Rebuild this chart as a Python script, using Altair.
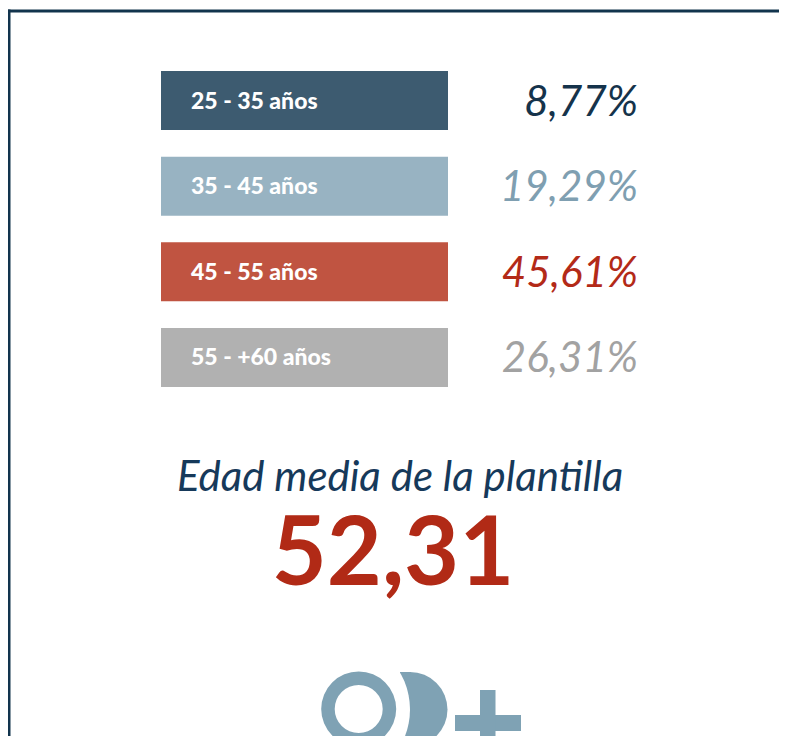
import altair as alt
import pandas as pd

# ---- data ----
age_groups = ["25 - 35 años", "35 - 45 años", "45 - 55 años", "55 - +60 años"]
percentages = [8.77, 19.29, 45.61, 26.31]
bar_colors = ["#3d5b70", "#98b3c2", "#c05441", "#b1b1b1"]
pct_colors = ["#15334b", "#7f9fb1", "#b32a18", "#a2a2a2"]
title_text = "Edad media de la plantilla"
mean_age = 52.31

pct_labels = [f"{v:.2f}".replace(".", ",") + "%" for v in percentages]
df = pd.DataFrame({
    "group": age_groups,
    "pct": percentages,
    "label": pct_labels,
    "bar_color": bar_colors,
    "pct_color": pct_colors,
})

LOGO = "#7fa2b4"
W, H = 771, 728

y_enc = alt.Y("group:N", sort=age_groups, axis=None,
              scale=alt.Scale(range=[63, 379], paddingInner=0.311, paddingOuter=0))

bars = alt.Chart(df).mark_rect().encode(
    y=y_enc,
    x=alt.value(153), x2=alt.value(440),
    color=alt.Color("bar_color:N", scale=None),
)

labels = alt.Chart(df).mark_text(
    align="left", baseline="alphabetic", dy=8,
    font="Lato", fontWeight=900, fontSize=23, color="white",
).encode(y=y_enc, x=alt.value(183), text="group:N")

pcts = alt.Chart(df).mark_text(
    align="right", baseline="alphabetic", dy=15,
    font="Lato", fontWeight=400, fontStyle="italic", fontSize=42,
).encode(
    y=y_enc, x=alt.value(630), text="label:N",
    color=alt.Color("pct_color:N", scale=None),
)

one = pd.DataFrame({"t": [title_text], "m": [f"{mean_age:.2f}".replace(".", ",")]})

title = alt.Chart(one).mark_text(
    align="center", baseline="alphabetic", font="Lato", fontStyle="italic",
    fontSize=42, color="#16395a",
).encode(x=alt.value(392), y=alt.value(483), text="t:N")

big = alt.Chart(one).mark_text(
    align="center", baseline="alphabetic", font="Lato", fontWeight="bold",
    fontSize=95, color="#b12a16",
).encode(x=alt.value(385), y=alt.value(577), text="m:N")

dot = pd.DataFrame({"k": [0]})
# logo: "D" part
d_rect = alt.Chart(dot).mark_rect(color=LOGO).encode(
    x=alt.value(392), x2=alt.value(403), y=alt.value(664), y2=alt.value(739))
d_half = alt.Chart(dot).mark_arc(color=LOGO, radius=37.5, theta=0, theta2=3.14159).encode(
    x=alt.value(402), y=alt.value(701.5))
d_cut = alt.Chart(dot).mark_arc(color="white", radius=73.5, theta=0, theta2=6.2832).encode(
    x=alt.value(328.5), y=alt.value(701.5))
o_ring = alt.Chart(dot).mark_arc(color=LOGO, radius=37.5, radius2=24, theta=0, theta2=6.2832).encode(
    x=alt.value(350.7), y=alt.value(701))
plus_h = alt.Chart(dot).mark_rect(color=LOGO).encode(
    x=alt.value(447), x2=alt.value(513), y=alt.value(707), y2=alt.value(723))
plus_v = alt.Chart(dot).mark_rect(color=LOGO).encode(
    x=alt.value(472), x2=alt.value(487.5), y=alt.value(682), y2=alt.value(760))

border_top = alt.Chart(dot).mark_rect(color="#12344d").encode(
    x=alt.value(0), x2=alt.value(W), y=alt.value(1.5), y2=alt.value(4.5))
border_left = alt.Chart(dot).mark_rect(color="#12344d").encode(
    x=alt.value(0), x2=alt.value(2.5), y=alt.value(1.5), y2=alt.value(H))

chart = alt.layer(
    border_top, border_left, bars, labels, pcts, title, big,
    d_rect, d_half, d_cut, o_ring, plus_h, plus_v,
).properties(
    width=W, height=H, padding=0, autosize=alt.AutoSizeParams(type="none"),
    background="white",
).configure_view(strokeWidth=0)

chart.save("out.html", embed_options={"renderer": "svg", "actions": False})
